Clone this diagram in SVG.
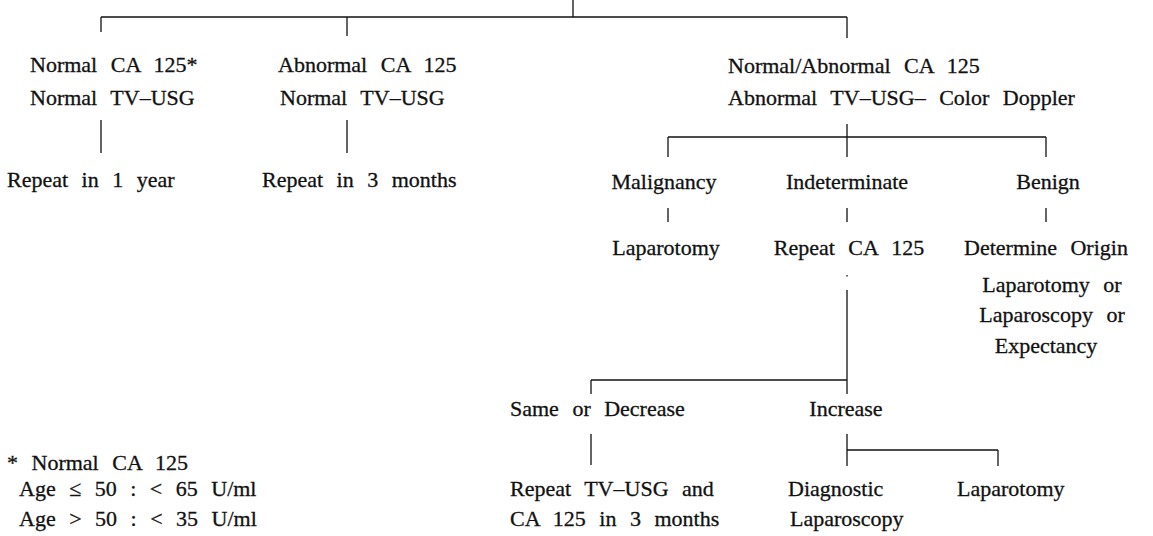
<svg xmlns="http://www.w3.org/2000/svg" width="1153" height="536" viewBox="0 0 1153 536" font-family="Liberation Serif, Times New Roman, serif">
<style>
text{font-family:"Liberation Serif","Times New Roman",serif;font-size:22px;fill:#111;stroke:#111;stroke-width:0.3;word-spacing:8px}
.m{text-anchor:middle}
line{stroke:#111;stroke-width:1.3;fill:none}
</style>
<rect width="1153" height="536" fill="#fff"/>
<g id="connectors">
<line x1="573" y1="0" x2="573" y2="17"/>
<line x1="101" y1="17" x2="847" y2="17"/>
<line x1="101" y1="17" x2="101" y2="32"/>
<line x1="347" y1="17" x2="347" y2="36"/>
<line x1="847" y1="17" x2="847" y2="38"/>
<line x1="101" y1="120" x2="101" y2="153"/>
<line x1="347" y1="120" x2="347" y2="153"/>
<line x1="847" y1="124" x2="847" y2="157"/>
<line x1="668" y1="137" x2="1046" y2="137"/>
<line x1="668" y1="137" x2="668" y2="157"/>
<line x1="1046" y1="137" x2="1046" y2="157"/>
<line x1="668" y1="208" x2="668" y2="222"/>
<line x1="847" y1="208" x2="847" y2="222"/>
<line x1="1046" y1="208" x2="1046" y2="222"/>
<line x1="847" y1="275" x2="847" y2="276.5"/>
<line x1="847" y1="290" x2="847" y2="380"/>
<line x1="591" y1="380" x2="847" y2="380"/>
<line x1="591" y1="380" x2="591" y2="394"/>
<line x1="847" y1="380" x2="847" y2="394"/>
<line x1="591" y1="434" x2="591" y2="465"/>
<line x1="847" y1="434" x2="847" y2="466"/>
<line x1="847" y1="450" x2="998" y2="450"/>
<line x1="998" y1="450" x2="998" y2="466"/>
</g>
<g id="n-normal"><text x="30" y="72">Normal CA 125*</text><text x="30" y="105">Normal TV–USG</text></g>
<g id="n-repeat1y"><text x="7" y="187">Repeat in 1 year</text></g>
<g id="n-abnormal"><text x="278" y="72">Abnormal CA 125</text><text x="280" y="105">Normal TV–USG</text></g>
<g id="n-repeat3m"><text x="262" y="187">Repeat in 3 months</text></g>
<g id="n-doppler"><text x="728" y="73">Normal/Abnormal CA 125</text><text x="728" y="105">Abnormal TV–USG– Color Doppler</text></g>
<g id="n-malig"><text class="m" x="664" y="189">Malignancy</text></g>
<g id="n-indet"><text class="m" x="847" y="189">Indeterminate</text></g>
<g id="n-benign"><text class="m" x="1048" y="189">Benign</text></g>
<g id="n-lap1"><text class="m" x="666" y="255">Laparotomy</text></g>
<g id="n-repca"><text class="m" x="849" y="255">Repeat CA 125</text></g>
<g id="n-origin"><text class="m" x="1046" y="255">Determine Origin</text><text class="m" x="1052" y="292">Laparotomy or</text><text class="m" x="1052" y="322">Laparoscopy or</text><text class="m" x="1046" y="353">Expectancy</text></g>
<g id="n-same"><text x="510" y="416">Same or Decrease</text></g>
<g id="n-increase"><text class="m" x="846" y="416">Increase</text></g>
<g id="n-repeattv"><text x="510" y="496">Repeat TV–USG and</text><text x="510" y="526">CA 125 in 3 months</text></g>
<g id="n-diag"><text x="788" y="496">Diagnostic</text><text x="790" y="526">Laparoscopy</text></g>
<g id="n-lap2"><text x="957" y="496">Laparotomy</text></g>
<g id="footnote"><text x="7" y="470">* Normal CA 125</text><text x="19" y="496">Age ≤ 50 : &lt; 65 U/ml</text><text x="19" y="526">Age &gt; 50 : &lt; 35 U/ml</text></g>
</svg>
